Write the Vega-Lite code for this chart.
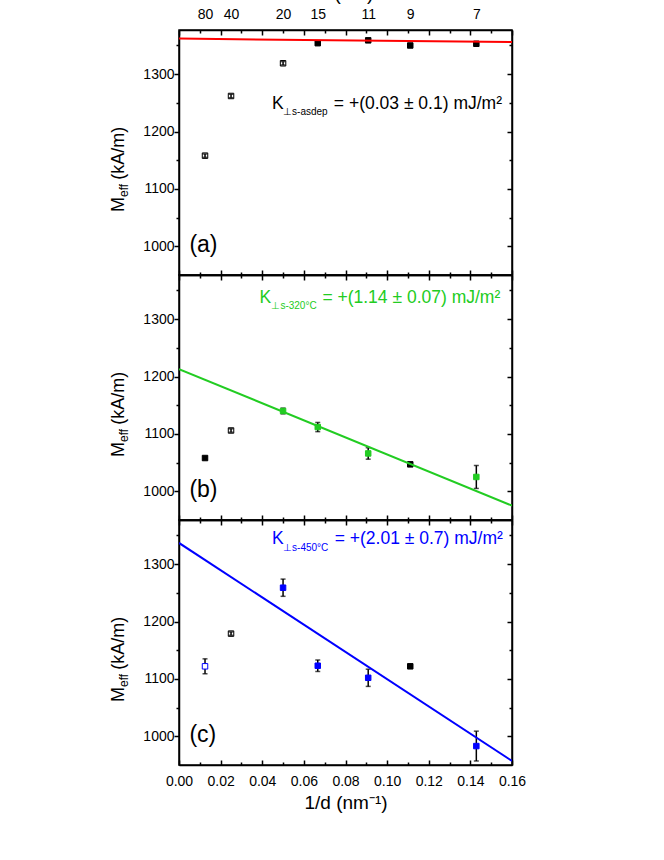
{
  "$schema": "https://vega.github.io/schema/vega-lite/v6.json",
  "padding": {"left": 109, "top": -17, "right": 5, "bottom": 5},
  "spacing": 0,
  "bounds": "flush",
  "config": {
    "font": "Liberation Sans",
    "view": {"stroke": "black", "strokeWidth": 1.5},
    "tick": {"bandSize": 6, "thickness": 1.5},
    "axis": {
      "grid": false,
      "domainColor": "black",
      "domainWidth": 1.5,
      "tickColor": "black",
      "tickWidth": 1.5,
      "labelFont": "Liberation Sans",
      "labelFontSize": 14,
      "labelColor": "black",
      "labelFlush": false,
      "labelOverlap": false,
      "titleFont": "Liberation Sans",
      "titleFontSize": 19,
      "titleFontWeight": "normal",
      "titleColor": "black"
    }
  },
  "datasets": {
    "points": [
      {"panel": "a", "d": 80, "inv_d": 0.0125, "m": 1158, "err": 3, "marker": "black open"},
      {"panel": "a", "d": 40, "inv_d": 0.025, "m": 1262, "err": 3, "marker": "black open"},
      {"panel": "a", "d": 20, "inv_d": 0.05, "m": 1319, "err": 3, "marker": "black open"},
      {"panel": "a", "d": 15, "inv_d": 0.06667, "m": 1354, "err": 2, "marker": "black filled"},
      {"panel": "a", "d": 11, "inv_d": 0.09091, "m": 1359, "err": 2, "marker": "black filled"},
      {"panel": "a", "d": 9, "inv_d": 0.11111, "m": 1350, "err": 2, "marker": "black filled"},
      {"panel": "a", "d": 7, "inv_d": 0.14286, "m": 1353, "err": 2, "marker": "black filled"},
      {"panel": "b", "d": 80, "inv_d": 0.0125, "m": 1058, "err": 2, "marker": "black filled"},
      {"panel": "b", "d": 40, "inv_d": 0.025, "m": 1106, "err": 3, "marker": "black open"},
      {"panel": "b", "d": 20, "inv_d": 0.05, "m": 1140, "err": 5, "marker": "green filled"},
      {"panel": "b", "d": 15, "inv_d": 0.06667, "m": 1112, "err": 8, "marker": "green filled"},
      {"panel": "b", "d": 11, "inv_d": 0.09091, "m": 1066, "err": 10, "marker": "green filled"},
      {"panel": "b", "d": 9, "inv_d": 0.11111, "m": 1047, "err": 3, "marker": "black filled"},
      {"panel": "b", "d": 7, "inv_d": 0.14286, "m": 1025, "err": 20, "marker": "green filled"},
      {"panel": "c", "d": 80, "inv_d": 0.0125, "m": 1122, "err": 13, "marker": "blue open"},
      {"panel": "c", "d": 40, "inv_d": 0.025, "m": 1179, "err": 3, "marker": "black open"},
      {"panel": "c", "d": 20, "inv_d": 0.05, "m": 1259, "err": 15, "marker": "blue filled"},
      {"panel": "c", "d": 15, "inv_d": 0.06667, "m": 1123, "err": 10, "marker": "blue filled"},
      {"panel": "c", "d": 11, "inv_d": 0.09091, "m": 1102, "err": 15, "marker": "blue filled"},
      {"panel": "c", "d": 9, "inv_d": 0.11111, "m": 1122, "err": 3, "marker": "black filled"},
      {"panel": "c", "d": 7, "inv_d": 0.14286, "m": 983, "err": 26, "marker": "blue filled"}
    ],
    "fits": [
      {"panel": "a", "inv_d": 0, "m": 1362},
      {"panel": "a", "inv_d": 0.16, "m": 1356},
      {"panel": "b", "inv_d": 0, "m": 1213},
      {"panel": "b", "inv_d": 0.16, "m": 975},
      {"panel": "c", "inv_d": 0, "m": 1337},
      {"panel": "c", "inv_d": 0.16, "m": 957}
    ],
    "notes": [
      {"panel": "a", "role": "big", "text": "K", "inv_d": 0.0447, "m": 1240},
      {"panel": "a", "role": "sub", "text": "⊥s-asdep", "inv_d": 0.0500, "m": 1228},
      {"panel": "a", "role": "big", "text": "= +(0.03 ± 0.1) mJ/m²", "inv_d": 0.0744, "m": 1240},
      {"panel": "b", "role": "big", "text": "K", "inv_d": 0.0387, "m": 1329},
      {"panel": "b", "role": "sub", "text": "⊥s-320°C", "inv_d": 0.0444, "m": 1318},
      {"panel": "b", "role": "big", "text": "= +(1.14 ± 0.07) mJ/m²", "inv_d": 0.0689, "m": 1329},
      {"panel": "c", "role": "big", "text": "K", "inv_d": 0.0447, "m": 1335},
      {"panel": "c", "role": "sub", "text": "⊥s-450°C", "inv_d": 0.0500, "m": 1323},
      {"panel": "c", "role": "big", "text": "= +(2.01 ± 0.7) mJ/m²", "inv_d": 0.0748, "m": 1335},
      {"panel": "a", "role": "tag", "text": "(a)", "inv_d": 0.005, "m": 1003},
      {"panel": "b", "role": "tag", "text": "(b)", "inv_d": 0.005, "m": 1003},
      {"panel": "c", "role": "tag", "text": "(c)", "inv_d": 0.005, "m": 1003},
      {"panel": "all", "role": "ylab", "text": "M", "inv_d": -0.0265, "m": 1060},
      {"panel": "all", "role": "ylabsub", "text": "eff", "inv_d": -0.0246, "m": 1086},
      {"panel": "all", "role": "ylab", "text": "(kA/m)", "inv_d": -0.0265, "m": 1116}
    ]
  },
  "vconcat": [
    {
      "width": 333,
      "height": 245,
      "layer": [
        {
          "data": {"name": "points"},
          "transform": [{"filter": "datum.panel == 'a'"}],
          "mark": {"type": "errorbar", "ticks": true, "thickness": 1.5, "color": "black"},
          "encoding": {
            "x": {"field": "inv_d", "type": "quantitative", "scale": {"domain": [0, 0.16], "nice": false},
              "axis": {"orient": "bottom", "values": [0, 0.01, 0.02, 0.03, 0.04, 0.05, 0.06, 0.07, 0.08, 0.09, 0.1, 0.11, 0.12, 0.13, 0.14, 0.15, 0.16],
                "tickSize": {"expr": "round(datum.value*100)%2==0 ? -5 : -3"}, "labels": false, "title": null}},
            "y": {"field": "m", "type": "quantitative", "scale": {"domain": [950, 1377], "nice": false, "zero": false},
              "axis": {"orient": "left", "values": [1000, 1050, 1100, 1150, 1200, 1250, 1300, 1350],
                "tickSize": {"expr": "datum.value%100==0 ? 5 : 3"}, "format": "d",
                "labelExpr": "datum.value%100==0 ? datum.label : ''", "labelPadding": 0, "title": null}},
            "yError": {"field": "err"}
          }
        },
        {
          "data": {"name": "points"},
          "transform": [{"filter": "datum.panel == 'a'"}],
          "mark": {"type": "square", "size": 30, "filled": true, "strokeWidth": 1, "opacity": 1},
          "encoding": {
            "x": {"field": "inv_d", "type": "quantitative",
              "axis": {"orient": "top", "values": [0, 0.01, 0.02, 0.03, 0.04, 0.05, 0.06, 0.07, 0.08, 0.09, 0.1, 0.11, 0.12, 0.13, 0.14, 0.15, 0.16],
                "tickSize": {"expr": "round(datum.value*100)%2==0 ? -5 : -3"}, "labels": false, "title": null}},
            "y": {"field": "m", "type": "quantitative",
              "axis": {"orient": "right", "values": [1000, 1050, 1100, 1150, 1200, 1250, 1300, 1350],
                "tickSize": {"expr": "datum.value%100==0 ? -5 : -3"}, "labels": false, "title": null}},
            "fill": {"field": "marker", "type": "nominal", "legend": null,
              "scale": {"domain": ["black filled", "black open", "green filled", "blue filled", "blue open"],
                "range": ["black", "transparent", "#22cc22", "#0000ff", "white"]}},
            "stroke": {"field": "marker", "type": "nominal", "legend": null,
              "scale": {"domain": ["black filled", "black open", "green filled", "blue filled", "blue open"],
                "range": ["black", "black", "#22cc22", "#0000ff", "#0000ff"]}}
          }
        },
        {
          "data": {"name": "fits"},
          "transform": [{"filter": "datum.panel == 'a'"}],
          "mark": {"type": "line", "color": "#ff0000", "strokeWidth": 2, "clip": true},
          "encoding": {
            "x": {"field": "inv_d", "type": "quantitative",
              "axis": {"orient": "top", "values": [0.0125, 0.025, 0.05, 0.06667, 0.09091, 0.11111, 0.14286],
                "ticks": false, "domain": false, "labelExpr": "format(round(1/datum.value), 'd')",
                "labelPadding": 9, "title": "d (nm)", "titlePadding": 4}},
            "y": {"field": "m", "type": "quantitative", "axis": null}
          }
        },
        {
          "data": {"name": "notes"},
          "transform": [{"filter": "datum.panel == 'a' && datum.role == 'big'"}],
          "mark": {"type": "text", "align": "left", "baseline": "alphabetic", "fontSize": 17.5, "color": "black"},
          "encoding": {
            "x": {"field": "inv_d", "type": "quantitative", "axis": null},
            "y": {"field": "m", "type": "quantitative", "axis": null},
            "text": {"field": "text"}
          }
        },
        {
          "data": {"name": "notes"},
          "transform": [{"filter": "datum.panel == 'a' && datum.role == 'sub'"}],
          "mark": {"type": "text", "align": "left", "baseline": "alphabetic", "fontSize": 10, "color": "black"},
          "encoding": {
            "x": {"field": "inv_d", "type": "quantitative", "axis": null},
            "y": {"field": "m", "type": "quantitative", "axis": null},
            "text": {"field": "text"}
          }
        },
        {
          "data": {"name": "notes"},
          "transform": [{"filter": "datum.panel == 'a' && datum.role == 'tag'"}],
          "mark": {"type": "text", "align": "left", "baseline": "middle", "fontSize": 23, "color": "black"},
          "encoding": {
            "x": {"field": "inv_d", "type": "quantitative", "axis": null},
            "y": {"field": "m", "type": "quantitative", "axis": null},
            "text": {"field": "text"}
          }
        },
        {
          "data": {"name": "notes"},
          "transform": [{"filter": "datum.role == 'ylab'"}],
          "mark": {"type": "text", "align": "left", "baseline": "alphabetic", "angle": 270, "fontSize": 18, "color": "black"},
          "encoding": {
            "x": {"field": "inv_d", "type": "quantitative", "axis": null},
            "y": {"field": "m", "type": "quantitative", "axis": null},
            "text": {"field": "text"}
          }
        },
        {
          "data": {"name": "notes"},
          "transform": [{"filter": "datum.role == 'ylabsub'"}],
          "mark": {"type": "text", "align": "left", "baseline": "alphabetic", "angle": 270, "fontSize": 12, "color": "black"},
          "encoding": {
            "x": {"field": "inv_d", "type": "quantitative", "axis": null},
            "y": {"field": "m", "type": "quantitative", "axis": null},
            "text": {"field": "text"}
          }
        }
      ],
      "resolve": {"axis": {"x": "independent", "y": "independent"}}
    },
    {
      "width": 333,
      "height": 245,
      "layer": [
        {
          "data": {"name": "points"},
          "transform": [{"filter": "datum.panel == 'b'"}],
          "mark": {"type": "errorbar", "ticks": true, "thickness": 1.5, "color": "black"},
          "encoding": {
            "x": {"field": "inv_d", "type": "quantitative", "scale": {"domain": [0, 0.16], "nice": false},
              "axis": {"orient": "bottom", "values": [0, 0.01, 0.02, 0.03, 0.04, 0.05, 0.06, 0.07, 0.08, 0.09, 0.1, 0.11, 0.12, 0.13, 0.14, 0.15, 0.16],
                "tickSize": {"expr": "round(datum.value*100)%2==0 ? -5 : -3"}, "labels": false, "title": null}},
            "y": {"field": "m", "type": "quantitative", "scale": {"domain": [950, 1377], "nice": false, "zero": false},
              "axis": {"orient": "left", "values": [1000, 1050, 1100, 1150, 1200, 1250, 1300, 1350],
                "tickSize": {"expr": "datum.value%100==0 ? 5 : 3"}, "format": "d",
                "labelExpr": "datum.value%100==0 ? datum.label : ''", "labelPadding": 0, "title": null}},
            "yError": {"field": "err"}
          }
        },
        {
          "data": {"name": "points"},
          "transform": [{"filter": "datum.panel == 'b'"}],
          "mark": {"type": "square", "size": 30, "filled": true, "strokeWidth": 1, "opacity": 1},
          "encoding": {
            "x": {"field": "inv_d", "type": "quantitative",
              "axis": {"orient": "top", "values": [0, 0.01, 0.02, 0.03, 0.04, 0.05, 0.06, 0.07, 0.08, 0.09, 0.1, 0.11, 0.12, 0.13, 0.14, 0.15, 0.16],
                "tickSize": {"expr": "round(datum.value*100)%2==0 ? -5 : -3"}, "labels": false, "title": null}},
            "y": {"field": "m", "type": "quantitative",
              "axis": {"orient": "right", "values": [1000, 1050, 1100, 1150, 1200, 1250, 1300, 1350],
                "tickSize": {"expr": "datum.value%100==0 ? -5 : -3"}, "labels": false, "title": null}},
            "fill": {"field": "marker", "type": "nominal", "legend": null,
              "scale": {"domain": ["black filled", "black open", "green filled", "blue filled", "blue open"],
                "range": ["black", "transparent", "#22cc22", "#0000ff", "white"]}},
            "stroke": {"field": "marker", "type": "nominal", "legend": null,
              "scale": {"domain": ["black filled", "black open", "green filled", "blue filled", "blue open"],
                "range": ["black", "black", "#22cc22", "#0000ff", "#0000ff"]}}
          }
        },
        {
          "data": {"name": "fits"},
          "transform": [{"filter": "datum.panel == 'b'"}],
          "mark": {"type": "line", "color": "#22cc22", "strokeWidth": 2, "clip": true},
          "encoding": {
            "x": {"field": "inv_d", "type": "quantitative", "axis": null},
            "y": {"field": "m", "type": "quantitative", "axis": null}
          }
        },
        {
          "data": {"name": "notes"},
          "transform": [{"filter": "datum.panel == 'b' && datum.role == 'big'"}],
          "mark": {"type": "text", "align": "left", "baseline": "alphabetic", "fontSize": 17.5, "color": "#22cc22"},
          "encoding": {
            "x": {"field": "inv_d", "type": "quantitative", "axis": null},
            "y": {"field": "m", "type": "quantitative", "axis": null},
            "text": {"field": "text"}
          }
        },
        {
          "data": {"name": "notes"},
          "transform": [{"filter": "datum.panel == 'b' && datum.role == 'sub'"}],
          "mark": {"type": "text", "align": "left", "baseline": "alphabetic", "fontSize": 10, "color": "#22cc22"},
          "encoding": {
            "x": {"field": "inv_d", "type": "quantitative", "axis": null},
            "y": {"field": "m", "type": "quantitative", "axis": null},
            "text": {"field": "text"}
          }
        },
        {
          "data": {"name": "notes"},
          "transform": [{"filter": "datum.panel == 'b' && datum.role == 'tag'"}],
          "mark": {"type": "text", "align": "left", "baseline": "middle", "fontSize": 23, "color": "black"},
          "encoding": {
            "x": {"field": "inv_d", "type": "quantitative", "axis": null},
            "y": {"field": "m", "type": "quantitative", "axis": null},
            "text": {"field": "text"}
          }
        },
        {
          "data": {"name": "notes"},
          "transform": [{"filter": "datum.role == 'ylab'"}],
          "mark": {"type": "text", "align": "left", "baseline": "alphabetic", "angle": 270, "fontSize": 18, "color": "black"},
          "encoding": {
            "x": {"field": "inv_d", "type": "quantitative", "axis": null},
            "y": {"field": "m", "type": "quantitative", "axis": null},
            "text": {"field": "text"}
          }
        },
        {
          "data": {"name": "notes"},
          "transform": [{"filter": "datum.role == 'ylabsub'"}],
          "mark": {"type": "text", "align": "left", "baseline": "alphabetic", "angle": 270, "fontSize": 12, "color": "black"},
          "encoding": {
            "x": {"field": "inv_d", "type": "quantitative", "axis": null},
            "y": {"field": "m", "type": "quantitative", "axis": null},
            "text": {"field": "text"}
          }
        }
      ],
      "resolve": {"axis": {"x": "independent", "y": "independent"}}
    },
    {
      "width": 333,
      "height": 245,
      "layer": [
        {
          "data": {"name": "points"},
          "transform": [{"filter": "datum.panel == 'c'"}],
          "mark": {"type": "errorbar", "ticks": true, "thickness": 1.5, "color": "black"},
          "encoding": {
            "x": {"field": "inv_d", "type": "quantitative", "scale": {"domain": [0, 0.16], "nice": false},
              "axis": {"orient": "bottom", "values": [0, 0.01, 0.02, 0.03, 0.04, 0.05, 0.06, 0.07, 0.08, 0.09, 0.1, 0.11, 0.12, 0.13, 0.14, 0.15, 0.16],
                "tickSize": {"expr": "round(datum.value*100)%2==0 ? -5 : -3"},
                "labelExpr": "round(datum.value*100)%2==0 ? format(datum.value, '.2f') : ''",
                "labelPadding": 14, "title": "1/d (nm⁻¹)", "titlePadding": 3}},
            "y": {"field": "m", "type": "quantitative", "scale": {"domain": [950, 1377], "nice": false, "zero": false},
              "axis": {"orient": "left", "values": [1000, 1050, 1100, 1150, 1200, 1250, 1300, 1350],
                "tickSize": {"expr": "datum.value%100==0 ? 5 : 3"}, "format": "d",
                "labelExpr": "datum.value%100==0 ? datum.label : ''", "labelPadding": 0, "title": null}},
            "yError": {"field": "err"}
          }
        },
        {
          "data": {"name": "points"},
          "transform": [{"filter": "datum.panel == 'c'"}],
          "mark": {"type": "square", "size": 30, "filled": true, "strokeWidth": 1, "opacity": 1},
          "encoding": {
            "x": {"field": "inv_d", "type": "quantitative",
              "axis": {"orient": "top", "values": [0, 0.01, 0.02, 0.03, 0.04, 0.05, 0.06, 0.07, 0.08, 0.09, 0.1, 0.11, 0.12, 0.13, 0.14, 0.15, 0.16],
                "tickSize": {"expr": "round(datum.value*100)%2==0 ? -5 : -3"}, "labels": false, "title": null}},
            "y": {"field": "m", "type": "quantitative",
              "axis": {"orient": "right", "values": [1000, 1050, 1100, 1150, 1200, 1250, 1300, 1350],
                "tickSize": {"expr": "datum.value%100==0 ? -5 : -3"}, "labels": false, "title": null}},
            "fill": {"field": "marker", "type": "nominal", "legend": null,
              "scale": {"domain": ["black filled", "black open", "green filled", "blue filled", "blue open"],
                "range": ["black", "transparent", "#22cc22", "#0000ff", "white"]}},
            "stroke": {"field": "marker", "type": "nominal", "legend": null,
              "scale": {"domain": ["black filled", "black open", "green filled", "blue filled", "blue open"],
                "range": ["black", "black", "#22cc22", "#0000ff", "#0000ff"]}}
          }
        },
        {
          "data": {"name": "fits"},
          "transform": [{"filter": "datum.panel == 'c'"}],
          "mark": {"type": "line", "color": "#0000ff", "strokeWidth": 2, "clip": true},
          "encoding": {
            "x": {"field": "inv_d", "type": "quantitative", "axis": null},
            "y": {"field": "m", "type": "quantitative", "axis": null}
          }
        },
        {
          "data": {"name": "notes"},
          "transform": [{"filter": "datum.panel == 'c' && datum.role == 'big'"}],
          "mark": {"type": "text", "align": "left", "baseline": "alphabetic", "fontSize": 17.5, "color": "#0000ff"},
          "encoding": {
            "x": {"field": "inv_d", "type": "quantitative", "axis": null},
            "y": {"field": "m", "type": "quantitative", "axis": null},
            "text": {"field": "text"}
          }
        },
        {
          "data": {"name": "notes"},
          "transform": [{"filter": "datum.panel == 'c' && datum.role == 'sub'"}],
          "mark": {"type": "text", "align": "left", "baseline": "alphabetic", "fontSize": 10, "color": "#0000ff"},
          "encoding": {
            "x": {"field": "inv_d", "type": "quantitative", "axis": null},
            "y": {"field": "m", "type": "quantitative", "axis": null},
            "text": {"field": "text"}
          }
        },
        {
          "data": {"name": "notes"},
          "transform": [{"filter": "datum.panel == 'c' && datum.role == 'tag'"}],
          "mark": {"type": "text", "align": "left", "baseline": "middle", "fontSize": 23, "color": "black"},
          "encoding": {
            "x": {"field": "inv_d", "type": "quantitative", "axis": null},
            "y": {"field": "m", "type": "quantitative", "axis": null},
            "text": {"field": "text"}
          }
        },
        {
          "data": {"name": "notes"},
          "transform": [{"filter": "datum.role == 'ylab'"}],
          "mark": {"type": "text", "align": "left", "baseline": "alphabetic", "angle": 270, "fontSize": 18, "color": "black"},
          "encoding": {
            "x": {"field": "inv_d", "type": "quantitative", "axis": null},
            "y": {"field": "m", "type": "quantitative", "axis": null},
            "text": {"field": "text"}
          }
        },
        {
          "data": {"name": "notes"},
          "transform": [{"filter": "datum.role == 'ylabsub'"}],
          "mark": {"type": "text", "align": "left", "baseline": "alphabetic", "angle": 270, "fontSize": 12, "color": "black"},
          "encoding": {
            "x": {"field": "inv_d", "type": "quantitative", "axis": null},
            "y": {"field": "m", "type": "quantitative", "axis": null},
            "text": {"field": "text"}
          }
        }
      ],
      "resolve": {"axis": {"x": "independent", "y": "independent"}}
    }
  ]
}
